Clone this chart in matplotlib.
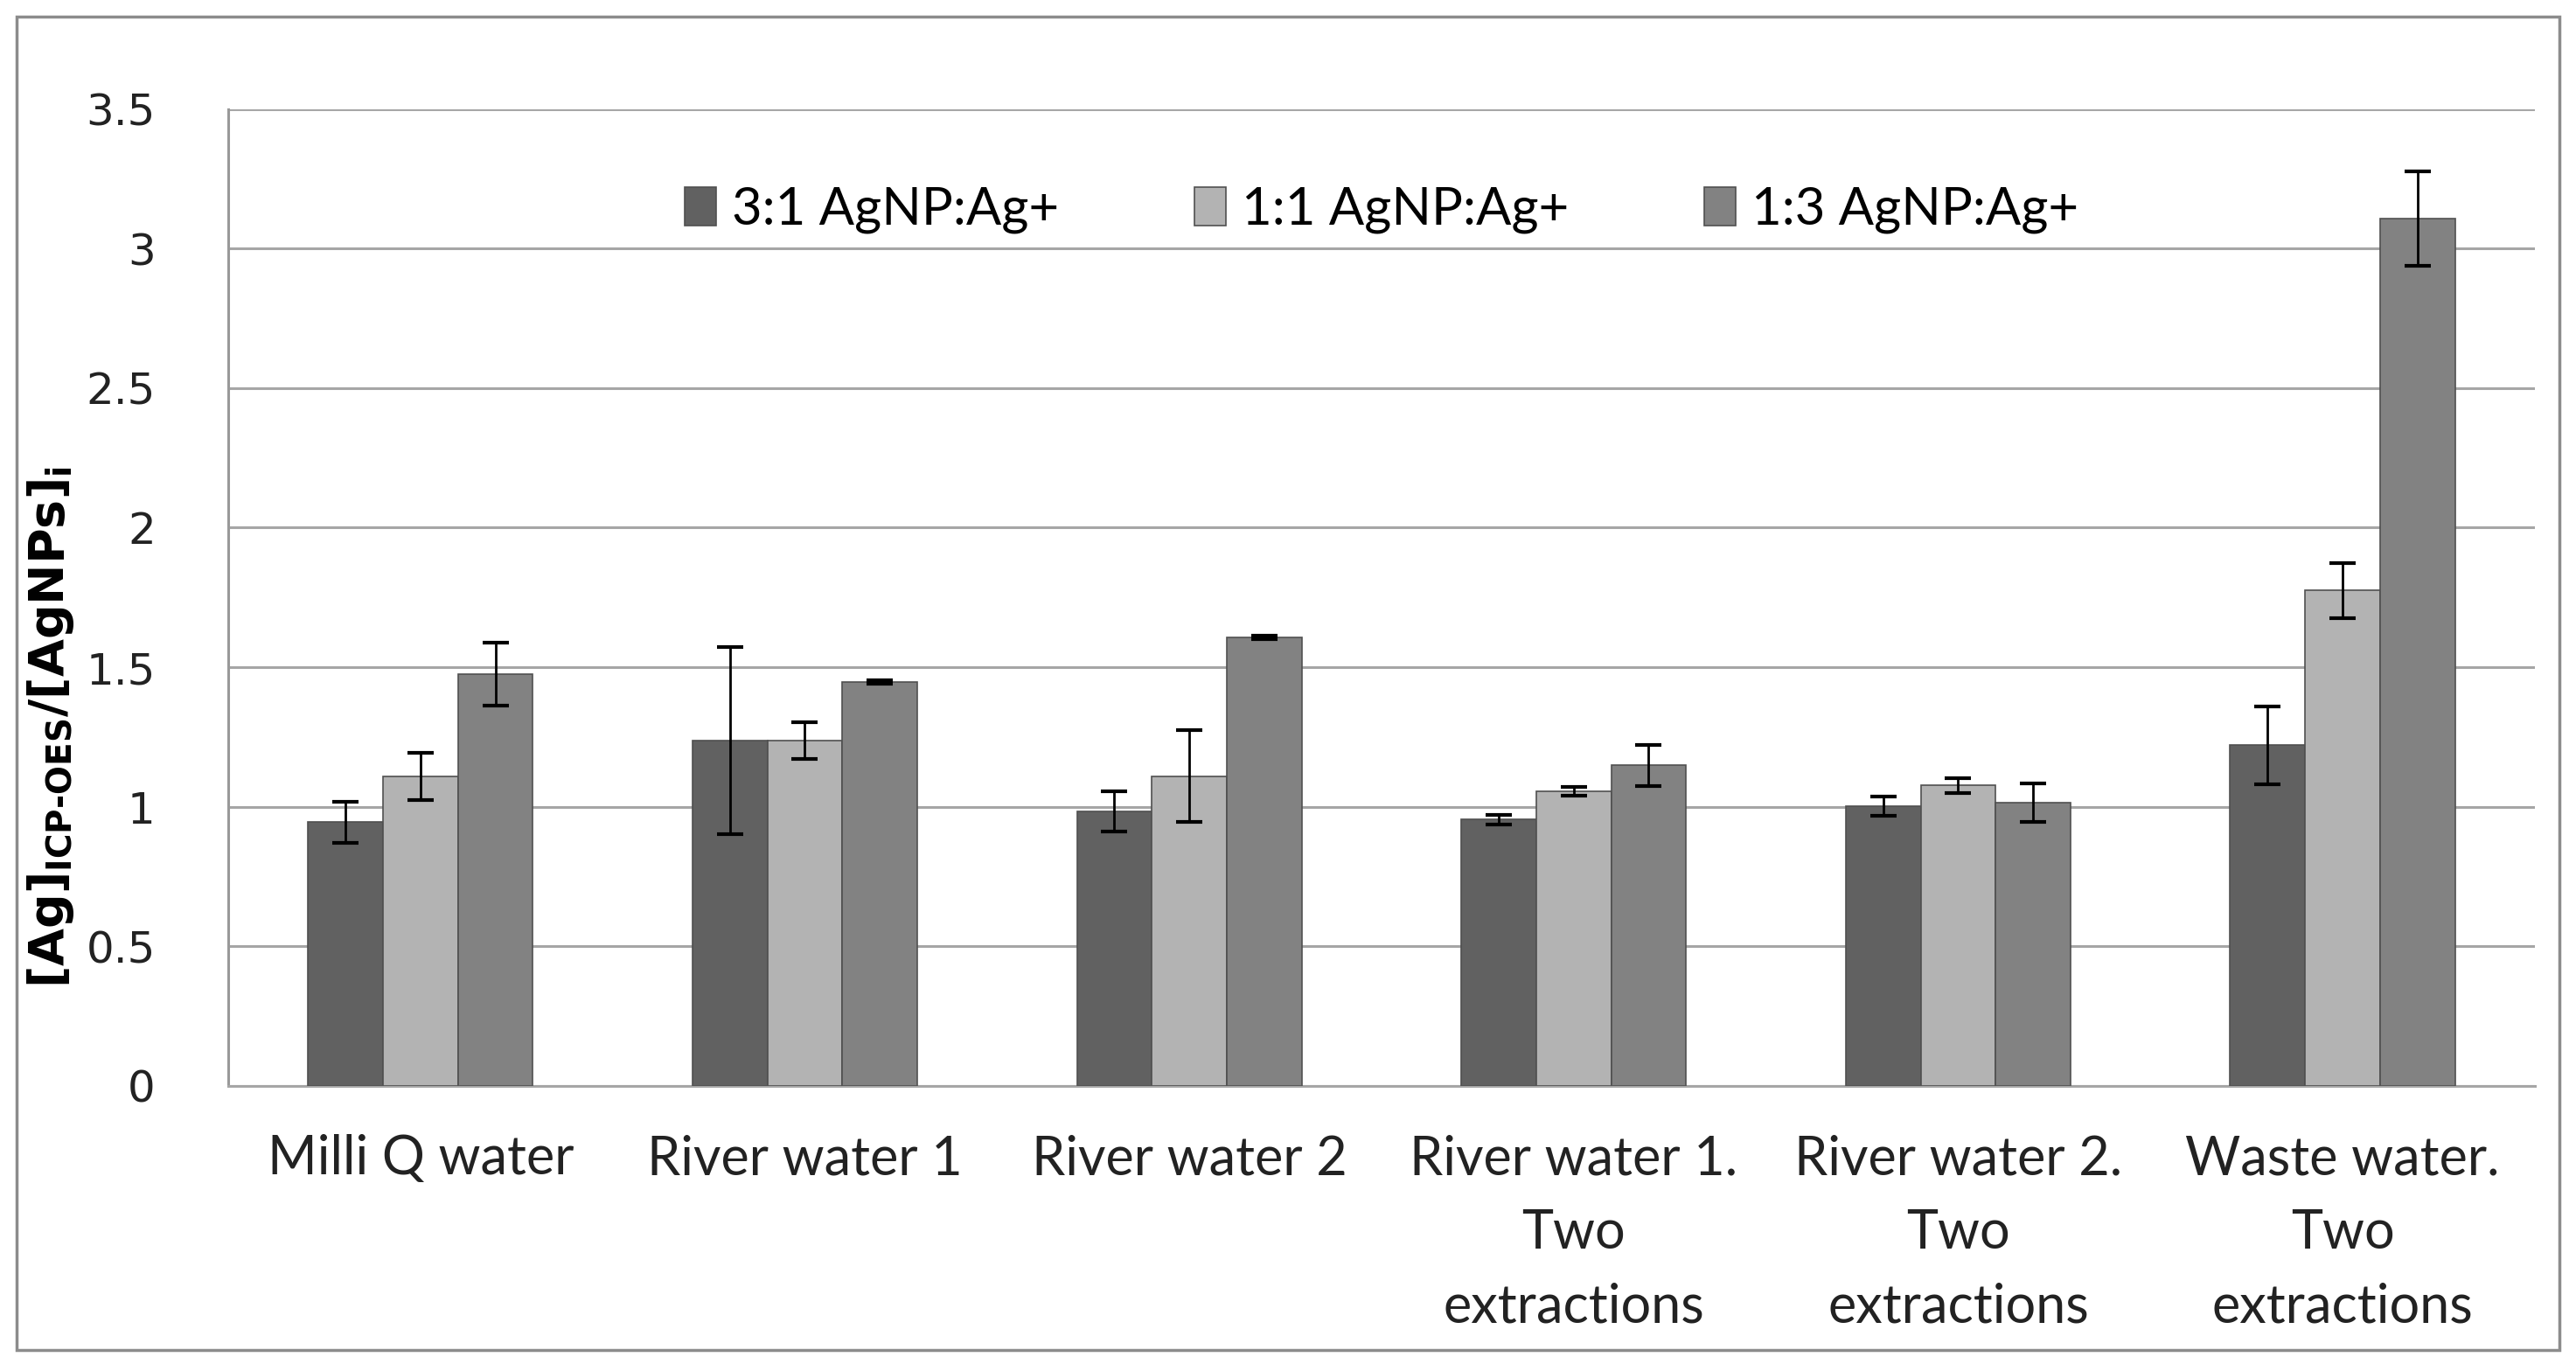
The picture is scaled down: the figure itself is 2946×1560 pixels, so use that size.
import matplotlib
matplotlib.use('Agg')
import matplotlib.pyplot as plt
import numpy as np
from matplotlib.patches import Rectangle

categories = ['Milli Q water', 'River water 1', 'River water 2',
              'River water 1.\nTwo\nextractions', 'River water 2.\nTwo\nextractions',
              'Waste water.\nTwo\nextractions']
series = ['3:1 AgNP:Ag+', '1:1 AgNP:Ag+', '1:3 AgNP:Ag+']
vals_31 = [0.944, 1.238, 0.983, 0.954, 1.002, 1.220]
vals_11 = [1.109, 1.238, 1.109, 1.055, 1.076, 1.775]
vals_13 = [1.475, 1.447, 1.607, 1.148, 1.014, 3.108]
err_31 = [0.075, 0.335, 0.072, 0.017, 0.033, 0.140]
err_11 = [0.085, 0.066, 0.165, 0.016, 0.026, 0.098]
err_13 = [0.113, 0.005, 0.005, 0.073, 0.068, 0.170]
yticks = [0, 0.5, 1, 1.5, 2, 2.5, 3, 3.5]
ytick_labels = ['0', '0.5', '1', '1.5', '2', '2.5', '3', '3.5']

colors = ['#616161', '#b3b3b3', '#828282']

plt.rcParams['font.family'] = ['Lato', 'DejaVu Sans']
plt.rcParams['mathtext.fontset'] = 'custom'
plt.rcParams['mathtext.rm'] = 'Liberation Sans Narrow:bold'

fig = plt.figure(figsize=(29.46, 15.6), dpi=100)
ax = fig.add_axes([0.0886, 0.204, 0.8954, 0.716])

x = np.arange(len(categories))
w = 0.195
for i, (v, e) in enumerate([(vals_31, err_31), (vals_11, err_11), (vals_13, err_13)]):
    ax.bar(x + (i - 1) * w, v, w, yerr=e, color=colors[i], edgecolor='#505050',
           linewidth=1.2, label=series[i], zorder=3,
           error_kw=dict(ecolor='black', elinewidth=2, capsize=11, capthick=3, zorder=4))

ax.set_xlim(-0.5, len(categories) - 0.5)
ax.set_ylim(0, 3.5)
ax.set_yticks(yticks)
ax.set_yticklabels(ytick_labels, fontsize=36, family='DejaVu Sans', color='#222222')
ax.set_xticks(x)
ax.set_xticklabels(categories, fontsize=44, linespacing=1.6, color='#222222')
ax.tick_params(axis='x', length=0, pad=40)
ax.tick_params(axis='y', length=0, pad=60)
ax.yaxis.grid(True, color='#a6a6a6', linewidth=2.2, zorder=0)
ax.set_axisbelow(True)
for s in ['top', 'right']:
    ax.spines[s].set_visible(False)
ax.spines['left'].set_color('#999999')
ax.spines['left'].set_linewidth(2.2)
ax.spines['bottom'].set_color('#a6a6a6')
ax.spines['bottom'].set_linewidth(2.2)

ax.set_ylabel(r'[Ag]$_{\mathrm{ICP\text{-}OES}}$/[AgNPs]$_{\mathrm{i}}$', fontsize=40,
              fontweight='bold', family=['Liberation Sans Narrow', 'DejaVu Sans'])
ax.yaxis.set_label_coords(-0.066, 0.367)

ax.legend(loc='center', bbox_to_anchor=(0.5, 0.897), ncol=3, frameon=False,
          fontsize=43, handlelength=0.6, handleheight=0.75, columnspacing=2.6,
          handletextpad=0.3)

fig.patches.append(Rectangle((0.0065, 0.01), 0.987, 0.978, transform=fig.transFigure,
                             fill=False, edgecolor='#8c8c8c', linewidth=2.5))

fig.savefig('out.png', dpi=100)
